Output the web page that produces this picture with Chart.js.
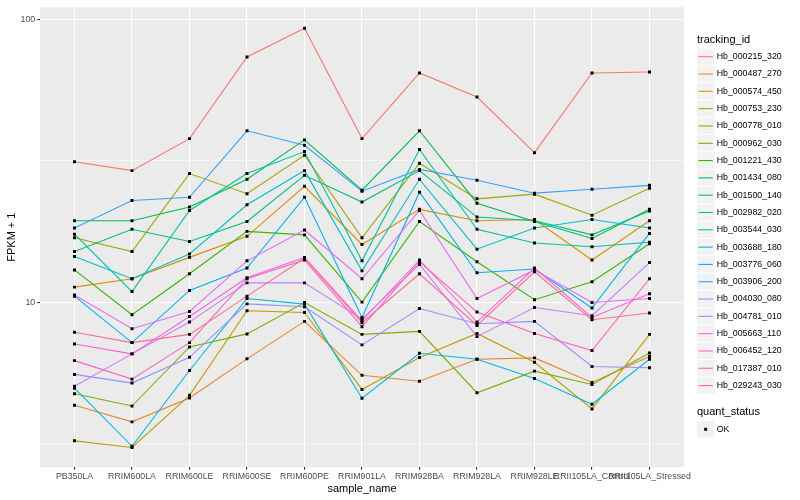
<!DOCTYPE html>
<html>
<head>
<meta charset="utf-8">
<script src="https://cdn.jsdelivr.net/npm/chart.js@4.4.1/dist/chart.umd.min.js"></script>
<style>
  html, body { margin: 0; padding: 0; background: #fff; }
  #wrap { width: 800px; height: 500px; }
</style>
</head>
<body>
<div id="wrap"><canvas id="chart" width="800" height="500"></canvas></div>
<script>
// categories on the x axis
const sampleNames = ['PB350LA', 'RRIM600LA', 'RRIM600LE', 'RRIM600SE', 'RRIM600PE', 'RRIM901LA',
    'RRIM928BA', 'RRIM928LA', 'RRIM928LE', 'RRII105LA_Control', 'RRII105LA_Stressed'];

const trackingIds = ['Hb_000215_320', 'Hb_000487_270', 'Hb_000574_450', 'Hb_000753_230', 'Hb_000778_010',
    'Hb_000962_030', 'Hb_001221_430', 'Hb_001434_080', 'Hb_001500_140', 'Hb_002982_020', 'Hb_003544_030',
    'Hb_003688_180', 'Hb_003776_060', 'Hb_003906_200', 'Hb_004030_080', 'Hb_004781_010', 'Hb_005663_110',
    'Hb_006452_120', 'Hb_017387_010', 'Hb_029243_030'];

const quantStatus = ['OK'];

// log axis breaks
const yMajorTicks = [10, 100];
const yMinorTicks = [3.1623, 31.623];

// FPKM + 1, one array per tracking_id (same order as sampleNames)
const hb_000215_320 = [31.4, 29.2, 37.9, 73.7, 93.2, 37.9, 64.7, 53.2, 33.8, 64.7, 65.2];
const hb_000487_270 = [4.32, 3.77, 4.58, 6.30, 8.55, 5.51, 5.25, 6.28, 6.35, 5.20, 6.42];
const hb_000574_450 = [11.3, 12.1, 14.4, 17.1, 25.7, 16.0, 21.3, 19.4, 19.6, 14.1, 19.4];
const hb_000753_230 = [3.23, 3.06, 4.68, 9.32, 9.19, 4.91, 6.37, 7.75, 6.13, 4.19, 7.69];
const hb_000778_010 = [16.9, 15.1, 28.5, 24.2, 33.1, 16.9, 31.0, 23.2, 24.1, 20.3, 25.3];
const hb_000962_030 = [4.74, 4.29, 6.94, 7.72, 9.97, 7.69, 7.88, 4.78, 5.70, 5.11, 6.61];
const hb_001221_430 = [13.0, 9.02, 12.6, 17.8, 17.3, 10.0, 19.3, 13.9, 10.2, 11.8, 16.1];
const hb_001434_080 = [19.4, 19.4, 21.7, 27.2, 37.5, 24.9, 40.4, 22.4, 19.3, 16.8, 21.3];
const hb_001500_140 = [15.1, 18.1, 16.4, 19.3, 28.1, 22.6, 29.2, 20.0, 19.4, 17.3, 21.0];
const hb_002982_020 = [17.4, 10.9, 21.1, 28.5, 34.1, 14.0, 34.7, 18.1, 16.2, 15.7, 16.3];
const hb_003544_030 = [14.5, 12.1, 14.8, 22.1, 29.2, 12.9, 27.2, 15.4, 18.3, 19.6, 18.3];
const hb_003688_180 = [4.96, 3.09, 5.73, 10.3, 9.84, 4.57, 6.59, 6.28, 5.37, 4.35, 6.28];
const hb_003776_060 = [10.5, 7.19, 11.0, 13.2, 23.5, 8.83, 24.5, 12.7, 13.1, 9.53, 17.5];
const hb_003906_200 = [18.3, 22.9, 23.5, 40.4, 35.9, 24.7, 29.5, 27.0, 24.3, 25.1, 25.9];
const hb_004030_080 = [5.55, 5.17, 6.38, 9.86, 9.63, 7.06, 9.49, 8.39, 8.55, 5.92, 5.86];
const hb_004781_010 = [5.04, 6.56, 8.50, 11.7, 11.7, 8.71, 13.6, 7.55, 9.57, 8.95, 13.8];
const hb_005663_110 = [10.6, 8.05, 9.27, 14.0, 18.0, 12.1, 21.1, 10.3, 13.0, 9.97, 10.3];
const hb_006452_120 = [7.11, 6.56, 8.90, 12.2, 14.4, 8.59, 14.1, 8.50, 13.2, 8.83, 10.7];
const hb_017387_010 = [6.21, 5.34, 7.19, 12.1, 14.1, 8.19, 13.9, 9.22, 7.75, 6.74, 12.1];
const hb_029243_030 = [7.82, 7.19, 7.69, 10.5, 14.3, 8.46, 12.6, 8.27, 12.8, 8.66, 9.15];

const seriesValues = [hb_000215_320, hb_000487_270, hb_000574_450, hb_000753_230, hb_000778_010,
    hb_000962_030, hb_001221_430, hb_001434_080, hb_001500_140, hb_002982_020, hb_003544_030,
    hb_003688_180, hb_003776_060, hb_003906_200, hb_004030_080, hb_004781_010, hb_005663_110,
    hb_006452_120, hb_017387_010, hb_029243_030];

// ggplot default hue palette for 20 levels
const palette = ['#F8766D', '#EA8331', '#D89000', '#C09B00', '#A3A500', '#7CAE00', '#39B600', '#00BB4E',
    '#00BF7D', '#00C1A3', '#00BFC4', '#00BAE0', '#00B0F6', '#35A2FF', '#9590FF', '#C77CFF', '#E76BF3',
    '#FA62DB', '#FF62BC', '#FF6C91'];

const FONT = '"Liberation Sans", Arial, Helvetica, sans-serif';

const lineSets = seriesValues.map((vals, i) => ({
    label: trackingIds[i],
    data: vals.map((v, j) => ({ x: j, y: v })),
    borderColor: palette[i],
    borderWidth: 1.1,
    pointRadius: 0,
    tension: 0,
    fill: false,
    order: seriesValues.length - i   // later groups on top, like ggplot
}));

const pointSet = {
    label: 'quant_status',
    data: seriesValues.flatMap(vals => vals.map((v, j) => ({ x: j, y: v }))),
    showLine: false,
    pointStyle: 'rect',
    pointRadius: 2.1,
    pointBackgroundColor: '#000',
    pointBorderWidth: 0,
    order: 0
};

// grey panel behind the grid
const panelBg = {
    id: 'panelBg',
    beforeDraw(chart) {
        const { ctx, chartArea: a } = chart;
        ctx.save();
        ctx.fillStyle = '#EBEBEB';
        ctx.fillRect(a.left, a.top, a.right - a.left, a.bottom - a.top);
        ctx.restore();
    }
};

// axis titles and the two legends, drawn ggplot style
const ggExtras = {
    id: 'ggExtras',
    afterDraw(chart) {
        const { ctx, chartArea: a } = chart;
        ctx.save();
        ctx.fillStyle = '#000';
        ctx.textBaseline = 'middle';

        ctx.font = '11px ' + FONT;
        ctx.textAlign = 'center';
        ctx.fillText('sample_name', (a.left + a.right) / 2, 489);
        ctx.save();
        ctx.translate(12, (a.top + a.bottom) / 2);
        ctx.rotate(-Math.PI / 2);
        ctx.fillText('FPKM + 1', 0, 0);
        ctx.restore();

        const lx = 697, key = 17.3, step = 17.31;
        ctx.textAlign = 'left';
        ctx.font = '11px ' + FONT;
        ctx.fillText('tracking_id', lx, 39.5);
        ctx.font = '8.8px ' + FONT;
        trackingIds.forEach((id, i) => {
            const cy = 56.7 + i * step;
            ctx.fillStyle = '#F2F2F2';
            ctx.fillRect(lx, cy - key / 2 + 0.5, key, key - 1);
            ctx.strokeStyle = palette[i];
            ctx.lineWidth = 1.1;
            ctx.beginPath();
            ctx.moveTo(lx + 1.5, cy);
            ctx.lineTo(lx + key - 1.5, cy);
            ctx.stroke();
            ctx.fillStyle = '#000';
            ctx.fillText(id, 716.7, cy);
        });

        ctx.font = '11px ' + FONT;
        ctx.fillText('quant_status', lx, 412.3);
        ctx.font = '8.8px ' + FONT;
        quantStatus.forEach((q, i) => {
            const cy = 429.3 + i * step;
            ctx.fillStyle = '#F2F2F2';
            ctx.fillRect(lx, cy - key / 2 + 0.5, key, key - 1);
            ctx.fillStyle = '#000';
            ctx.fillRect(lx + key / 2 - 1.5, cy - 1.5, 3, 3);
            ctx.fillText(q, 716.7, cy);
        });
        ctx.restore();
    }
};

const isMajorY = v => yMajorTicks.includes(v);

new Chart(document.getElementById('chart').getContext('2d'), {
    type: 'line',
    data: { datasets: [...lineSets, pointSet] },
    options: {
        responsive: false,
        animation: false,
        events: [],
        layout: { padding: { left: 0, right: 116, top: 5, bottom: 0 } },
        plugins: {
            legend: { display: false },
            tooltip: { enabled: false }
        },
        scales: {
            x: {
                type: 'linear',
                min: -0.6,
                max: sampleNames.length - 0.4,
                afterBuildTicks: s => { s.ticks = sampleNames.map((_, i) => ({ value: i })); },
                afterFit: s => { s.height = 33; },
                ticks: {
                    autoSkip: false,
                    maxRotation: 0,
                    minRotation: 0,
                    padding: 1.5,
                    color: '#4D4D4D',
                    font: { family: FONT, size: 8.8 },
                    callback: v => sampleNames[v]
                },
                grid: { color: '#FFFFFF', lineWidth: 1.1, tickLength: 2.75, tickColor: '#333333' },
                border: { display: false }
            },
            y: {
                type: 'logarithmic',
                min: 2.61,
                max: 110.5,
                afterBuildTicks: s => {
                    s.ticks = [...yMinorTicks, ...yMajorTicks].sort((p, q) => p - q).map(v => ({ value: v }));
                },
                afterFit: s => { s.width = 40; },
                ticks: {
                    padding: 2,
                    color: '#4D4D4D',
                    font: { family: FONT, size: 8.8 },
                    callback: v => isMajorY(v) ? String(v) : ''
                },
                grid: {
                    color: '#FFFFFF',
                    lineWidth: c => (c.tick && isMajorY(c.tick.value)) ? 1.1 : 0.55,
                    tickLength: 2.75,
                    tickColor: c => (c.tick && isMajorY(c.tick.value)) ? '#333333' : 'rgba(0,0,0,0)'
                },
                border: { display: false }
            }
        }
    },
    plugins: [panelBg, ggExtras]
});
</script>
</body>
</html>
